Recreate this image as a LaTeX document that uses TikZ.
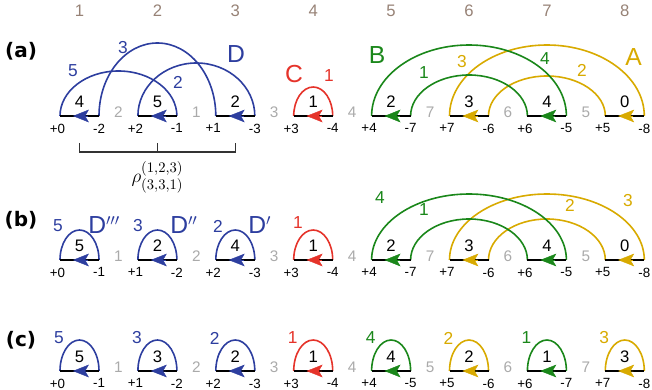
\documentclass[tikz,border=0pt]{standalone}
\usepackage{fontspec}
\setmainfont{Liberation Sans}
\newfontfamily\panelfont{DejaVu Sans}
\usetikzlibrary{arrows.meta, positioning, calc}
\definecolor{LoopBlue}{HTML}{2D3E9F}
\definecolor{LoopRed}{HTML}{E5332A}
\definecolor{LoopGreen}{HTML}{1A871A}
\definecolor{LoopYellow}{HTML}{D8AA00}
\definecolor{SiteGray}{HTML}{AAAAAA}
\definecolor{ColGray}{HTML}{978276}

% half-ellipse from one end point to another
\newcommand{\hop}[4]{%
  \draw[hopline, #4] (#1) let \p1 = ($(#2)-(#1)$) in
    arc[start angle=180, end angle=0, x radius=0.5*\x1, y radius=#3*0.75pt]}

\begin{document}
\begin{tikzpicture}[x=0.75pt, y=0.75pt,
  seg/.style={line width=1.9pt, black},
  hopline/.style={line width=1.2pt},
  arrowhd/.style={draw=#1, fill=#1, line width=0.3pt,
    -{Stealth[length=12pt, width=9.5pt, inset=2.8pt]}},
  colnum/.style={text=ColGray, font=\fontsize{12.5}{14}\selectfont},
  segnum/.style={font=\fontsize{12.5}{14}\selectfont, anchor=south, inner sep=0pt, yshift=6pt},
  endnum/.style={font=\fontsize{10}{12}\selectfont, anchor=north, inner sep=0pt, yshift=-5.6pt},
  sitenum/.style={text=SiteGray, font=\fontsize{11.5}{13}\selectfont, inner sep=0pt, yshift=2.6pt},
  hopnum/.style={font=\fontsize{13}{15}\selectfont, inner sep=0pt},
  looplbl/.style={font=\fontsize{18.5}{20}\selectfont, inner sep=0pt},
  panel/.style={font=\panelfont\bfseries\fontsize{15}{17}\selectfont, inner sep=0pt},
  brace/.style={line width=0.9pt, black!80}
]
\useasboundingbox (0,0) rectangle (652,389);

% end points of the segments, rows (a), (b), (c)
\foreach \r/\y in {a/273, b/129, c/18} {
  \foreach \i in {1,...,8} {
    \coordinate (\r\i l) at ({60+77.9*(\i-1)}, \y);
    \coordinate (\r\i r) at ({99+77.9*(\i-1)}, \y);
  }
}

% column numbers
\foreach \i in {1,...,8}
  \node[colnum] (col\i) at ($(a\i l)!0.5!(a\i r)+(0,105)$) {\i};

% panel labels
\node[panel] (pa) at (21,338) {(a)};
\node[panel] (pb) at (21,169) {(b)};
\node[panel] (pc) at (21,49) {(c)};

% arcs, row (a)
\hop{a1l}{a2r}{45}{LoopBlue};
\hop{a1r}{a3l}{73}{LoopBlue};
\hop{a2l}{a3r}{53}{LoopBlue};
\hop{a4l}{a4r}{29}{LoopRed};
\hop{a6l}{a8r}{71}{LoopYellow};
\hop{a6r}{a8l}{40}{LoopYellow};
\hop{a5l}{a7r}{71}{LoopGreen};
\hop{a5r}{a7l}{41}{LoopGreen};

% arcs, row (b)
\foreach \i/\col in {1/LoopBlue, 2/LoopBlue, 3/LoopBlue, 4/LoopRed}
  \hop{b\i l}{b\i r}{30}{\col};
\hop{b6l}{b8r}{66}{LoopYellow};
\hop{b6r}{b8l}{41}{LoopYellow};
\hop{b5l}{b7r}{66}{LoopGreen};
\hop{b5r}{b7l}{41}{LoopGreen};

% arcs, row (c)
\foreach \i/\n/\col in {1/5/LoopBlue, 2/3/LoopBlue, 3/2/LoopBlue, 4/1/LoopRed,
    5/4/LoopGreen, 6/2/LoopYellow, 7/1/LoopGreen, 8/3/LoopYellow} {
  \hop{c\i l}{c\i r}{31}{\col};
  \node[hopnum, text=\col] (c\i t) at ($(c\i l)+(-1,33)$) {\n};
}

% segments with arrows and numbers
\foreach \r/\i/\n/\lo/\hi/\col in {
    a/1/4/+0/-2/LoopBlue, a/2/5/+2/-1/LoopBlue, a/3/2/+1/-3/LoopBlue, a/4/1/+3/-4/LoopRed,
    a/5/2/+4/-7/LoopGreen, a/6/3/+7/-6/LoopYellow, a/7/4/+6/-5/LoopGreen, a/8/0/+5/-8/LoopYellow,
    b/1/5/+0/-1/LoopBlue, b/2/2/+1/-2/LoopBlue, b/3/4/+2/-3/LoopBlue, b/4/1/+3/-4/LoopRed,
    b/5/2/+4/-7/LoopGreen, b/6/3/+7/-6/LoopYellow, b/7/4/+6/-5/LoopGreen, b/8/0/+5/-8/LoopYellow,
    c/1/5/+0/-1/LoopBlue, c/2/3/+1/-2/LoopBlue, c/3/2/+2/-3/LoopBlue, c/4/1/+3/-4/LoopRed,
    c/5/4/+4/-5/LoopGreen, c/6/2/+5/-6/LoopYellow, c/7/1/+6/-7/LoopGreen, c/8/3/+7/-8/LoopYellow} {
  \draw[seg] (\r\i l) -- (\r\i r);
  \draw[arrowhd=\col] ($(\r\i l)!0.72!(\r\i r)$) -- ($(\r\i l)!0.33!(\r\i r)$);
  \node[segnum] (\r\i n) at ($(\r\i l)!0.5!(\r\i r)$) {\n};
  \node[endnum, xshift=-1.9pt] (\r\i lo) at (\r\i l) {\lo};
  \node[endnum] (\r\i hi) at (\r\i r) {\hi};
}

% site numbers between segments
\foreach \r/\i/\s in {a/1/2, a/2/1, a/3/3, a/4/4, a/5/7, a/6/6, a/7/5,
    b/1/1, b/2/2, b/3/3, b/4/4, b/5/7, b/6/6, b/7/5,
    c/1/1, c/2/2, c/3/3, c/4/4, c/5/5, c/6/6, c/7/7} {
  \pgfmathtruncatemacro\j{\i+1}
  \node[sitenum] (\r s\i) at ($(\r\i r)!0.5!(\r\j l)$) {\s};
}

% labels, row (a)
\node[hopnum, text=LoopBlue] (ha5) at (73,318) {5};
\node[hopnum, text=LoopBlue] (ha3) at (123,341.5) {3};
\node[hopnum, text=LoopBlue] (ha2) at (178,307) {2};
\node[looplbl, text=LoopBlue] (loopD) at (236,335) {D};
\node[looplbl, text=LoopRed] (loopC) at (294,315) {C};
\node[hopnum, text=LoopRed] (ha1) at (329,313) {1};
\node[looplbl, text=LoopGreen] (loopB) at (377,333.5) {B};
\node[hopnum, text=LoopGreen] (hb1) at (424,316) {1};
\node[hopnum, text=LoopYellow] (hy3) at (462,327.5) {3};
\node[hopnum, text=LoopGreen] (hb4) at (545,330) {4};
\node[hopnum, text=LoopYellow] (hy2) at (582,319) {2};
\node[looplbl, text=LoopYellow] (loopA) at (633.5,332) {A};

% bracket under row (a)
\coordinate (brL) at ($(a1l)!0.5!(a1r)+(0,-36)$);
\coordinate (brM) at ($(a2l)!0.5!(a2r)+(0,-36)$);
\coordinate (brR) at ($(a3l)!0.5!(a3r)+(0,-36)$);
\draw[brace] ($(brL)+(0,9)$) -- (brL) -- (brR) -- ($(brR)+(0,9)$);
\draw[brace] (brM) -- ++(0,9);
\node[font=\fontsize{15}{17}\selectfont, inner sep=0pt] (rho) at ($(brM)+(0,-25)$)
  {$\rho^{(1,2,3)}_{(3,3,1)}$};

% labels, row (b)
\node[hopnum, text=LoopBlue] (hb5) at (58,163) {5};
\node[looplbl, text=LoopBlue, anchor=west] (loopD3) at (88,164) {D$'''$};
\node[hopnum, text=LoopBlue] (hbb3) at (138,163) {3};
\node[looplbl, text=LoopBlue, anchor=west] (loopD2) at (170,164) {D$''$};
\node[hopnum, text=LoopBlue] (hbb2) at (218,163) {2};
\node[looplbl, text=LoopBlue, anchor=west] (loopD1) at (248,164) {D$'$};
\node[hopnum, text=LoopRed] (hbr1) at (298,166) {1};
\node[hopnum, text=LoopGreen] (hbg4) at (380,191) {4};
\node[hopnum, text=LoopGreen] (hbg1) at (424,179) {1};
\node[hopnum, text=LoopYellow] (hby2) at (570,184) {2};
\node[hopnum, text=LoopYellow] (hby3) at (628,188) {3};
\end{tikzpicture}
\end{document}
